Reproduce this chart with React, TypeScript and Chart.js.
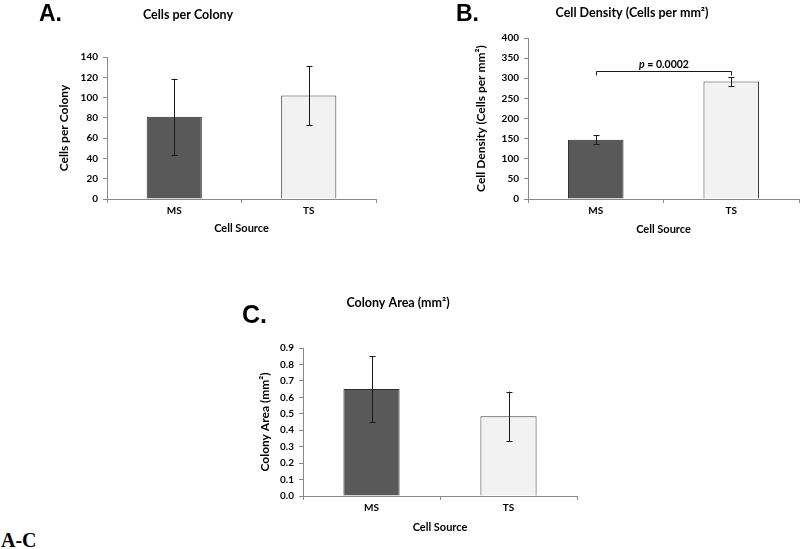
import React, { useEffect, useRef } from "react";
import { Chart, registerables } from "chart.js";

Chart.register(...registerables);

const categories = ["MS", "TS"];
const cellsPerColony = [81, 102];
const cellsPerColonyErr = [37.5, 29];
const cellDensity = [147, 292];
const cellDensityErr = [11, 11];
const colonyArea = [0.65, 0.485];
const colonyAreaErr = [0.2, 0.15];
const bracketValue = 318;
const pValueText = "0.0002";

const FONT = 'Lato, "Open Sans", sans-serif';
const AXIS = "#8a8a8a";
const barColors = ["#595959", "#f2f2f2"];
const barBorders = ["#2e2e2e", "#3c3c3c"];

type PanelSpec = {
  title: string;
  yTitle: string;
  values: number[];
  errs: number[];
  yMax: number;
  yStep: number;
  decimals: number;
  width: number;
  height: number;
  padLeft: number;
  padRight: number;
  yScaleWidth: number;
  xScaleHeight: number;
  titleTop: number;
  titleBottom: number;
  yTitlePad: number;
  xTitlePad: number;
  bracket?: boolean;
};

const errorBarPlugin = (errs: number[]) => ({
  id: "errorBars",
  afterDatasetsDraw(chart: any) {
    const ctx = chart.ctx;
    const meta = chart.getDatasetMeta(0);
    const ys = chart.scales.y;
    const vals = chart.data.datasets[0].data as number[];
    ctx.save();
    ctx.strokeStyle = "#1a1a1a";
    ctx.lineWidth = 1;
    meta.data.forEach((bar: any, i: number) => {
      const x = Math.round(bar.x) + 0.5;
      const top = ys.getPixelForValue(vals[i] + errs[i]);
      const bot = ys.getPixelForValue(vals[i] - errs[i]);
      ctx.beginPath();
      ctx.moveTo(x, top);
      ctx.lineTo(x, bot);
      ctx.moveTo(x - 3, Math.round(top) + 0.5);
      ctx.lineTo(x + 3, Math.round(top) + 0.5);
      ctx.moveTo(x - 3, Math.round(bot) + 0.5);
      ctx.lineTo(x + 3, Math.round(bot) + 0.5);
      ctx.stroke();
    });
    ctx.restore();
  },
});

const bracketPlugin = {
  id: "bracket",
  afterDatasetsDraw(chart: any) {
    const ctx = chart.ctx;
    const meta = chart.getDatasetMeta(0);
    const ys = chart.scales.y;
    const x1 = Math.round(meta.data[0].x) + 0.5;
    const x2 = Math.round(meta.data[1].x) + 0.5;
    const y = Math.round(ys.getPixelForValue(bracketValue)) + 0.5;
    ctx.save();
    ctx.strokeStyle = "#1a1a1a";
    ctx.lineWidth = 1;
    ctx.beginPath();
    ctx.moveTo(x1, y + 4);
    ctx.lineTo(x1, y);
    ctx.lineTo(x2, y);
    ctx.lineTo(x2, y + 4);
    ctx.stroke();
    const rest = " = " + pValueText;
    ctx.font = `bold 10.5px ${FONT}`;
    const restW = ctx.measureText(rest).width;
    ctx.font = `italic bold 10.5px ${FONT}`;
    const pW = ctx.measureText("p").width;
    const cx = (x1 + x2) / 2;
    const start = cx - (pW + restW) / 2;
    ctx.fillStyle = "#000";
    ctx.textBaseline = "alphabetic";
    ctx.textAlign = "left";
    ctx.fillText("p", start, y - 4);
    ctx.font = `bold 10.5px ${FONT}`;
    ctx.fillText(rest, start + pW, y - 4);
    ctx.restore();
  },
};

function Panel({ spec, style }: { spec: PanelSpec; style: React.CSSProperties }) {
  const ref = useRef<HTMLCanvasElement>(null);
  useEffect(() => {
    if (!ref.current) return;
    const plugins: any[] = [errorBarPlugin(spec.errs)];
    if (spec.bracket) plugins.push(bracketPlugin);
    const chart = new Chart(ref.current, {
      type: "bar",
      data: {
        labels: categories,
        datasets: [
          {
            data: spec.values,
            backgroundColor: barColors,
            borderColor: barBorders,
            borderWidth: 1,
            barPercentage: 0.41,
            categoryPercentage: 1,
          },
        ],
      },
      options: {
        animation: false,
        responsive: false,
        layout: { padding: { left: spec.padLeft, right: spec.padRight, top: 0, bottom: 0 } },
        plugins: {
          legend: { display: false },
          tooltip: { enabled: false },
          title: {
            display: true,
            text: spec.title,
            color: "#000",
            font: { family: FONT, size: 12.5, weight: "bold", lineHeight: 1.2 },
            padding: { top: spec.titleTop, bottom: spec.titleBottom },
          },
        },
        scales: {
          x: {
            offset: true,
            grid: { offset: true, drawOnChartArea: false, drawTicks: true, tickLength: 4, color: AXIS },
            border: { color: AXIS },
            ticks: { color: "#000", padding: 2, font: { family: FONT, size: 10, weight: "bold" } },
            title: {
              display: true,
              text: "Cell Source",
              color: "#000",
              font: { family: FONT, size: 11, weight: "bold", lineHeight: 1.2 },
              padding: { top: 0, bottom: spec.xTitlePad },
            },
            afterFit: (s: any) => {
              s.height = spec.xScaleHeight;
            },
          },
          y: {
            min: 0,
            max: spec.yMax,
            grid: { drawOnChartArea: false, drawTicks: true, tickLength: 4, color: AXIS },
            border: { color: AXIS },
            ticks: {
              stepSize: spec.yStep,
              color: "#000",
              padding: 5,
              font: { family: FONT, size: 10, weight: "bold" },
              callback: (v: any) => Number(v).toFixed(spec.decimals),
            },
            title: {
              display: true,
              text: spec.yTitle,
              color: "#000",
              font: { family: FONT, size: 12, weight: "bold", lineHeight: 1.2 },
              padding: { top: spec.yTitlePad, bottom: 0 },
            },
            afterFit: (s: any) => {
              s.width = spec.yScaleWidth;
            },
          },
        },
      } as any,
      plugins,
    });
    return () => chart.destroy();
  }, [spec]);
  return (
    <canvas
      ref={ref}
      width={spec.width}
      height={spec.height}
      style={{ position: "absolute", width: spec.width, height: spec.height, ...style }}
    />
  );
}

const specA: PanelSpec = {
  title: "Cells per Colony",
  yTitle: "Cells per Colony",
  values: cellsPerColony,
  errs: cellsPerColonyErr,
  yMax: 140,
  yStep: 20,
  decimals: 0,
  width: 400,
  height: 240,
  padLeft: 0,
  padRight: 24,
  yScaleWidth: 107,
  xScaleHeight: 41,
  titleTop: 7.5,
  titleBottom: 34.5,
  yTitlePad: 57,
  xTitlePad: 5,
};

const specB: PanelSpec = {
  title: "Cell Density (Cells per mm²)",
  yTitle: "Cell Density (Cells per mm²)",
  values: cellDensity,
  errs: cellDensityErr,
  yMax: 400,
  yStep: 50,
  decimals: 0,
  width: 400,
  height: 240,
  padLeft: 65,
  padRight: 1,
  yScaleWidth: 63,
  xScaleHeight: 41,
  titleTop: 5.5,
  titleBottom: 17.5,
  yTitlePad: 8.5,
  xTitlePad: 4,
  bracket: true,
};

const specC: PanelSpec = {
  title: "Colony Area (mm²)",
  yTitle: "Colony Area (mm²)",
  values: colonyArea,
  errs: colonyAreaErr,
  yMax: 0.9,
  yStep: 0.1,
  decimals: 1,
  width: 400,
  height: 259,
  padLeft: 19,
  padRight: 23,
  yScaleWidth: 84,
  xScaleHeight: 53,
  titleTop: 5.5,
  titleBottom: 37.5,
  yTitlePad: 39,
  xTitlePad: 15,
};

const letterStyle: React.CSSProperties = {
  position: "absolute",
  fontFamily: '"Liberation Sans", Arial, sans-serif',
  fontWeight: "bold",
  fontSize: 23,
  lineHeight: "24px",
  color: "#000",
};

export default function App() {
  return (
    <div style={{ position: "absolute", left: 0, top: 0, width: 800, height: 549, background: "#fff", overflow: "hidden" }}>
      <Panel spec={specA} style={{ left: 0, top: 0 }} />
      <Panel spec={specB} style={{ left: 400, top: 0 }} />
      <Panel spec={specC} style={{ left: 200, top: 290 }} />
      <div style={{ ...letterStyle, left: 39, top: 1 }}>A.</div>
      <div style={{ ...letterStyle, left: 456, top: 1 }}>B.</div>
      <div style={{ ...letterStyle, left: 242, top: 302, fontSize: 25 }}>C.</div>
      <div
        style={{
          position: "absolute",
          left: 1,
          top: 530,
          fontFamily: '"Liberation Serif", "Times New Roman", serif',
          fontWeight: "bold",
          fontSize: 20,
          lineHeight: "20px",
          color: "#000",
        }}
      >
        A-C
      </div>
    </div>
  );
}
